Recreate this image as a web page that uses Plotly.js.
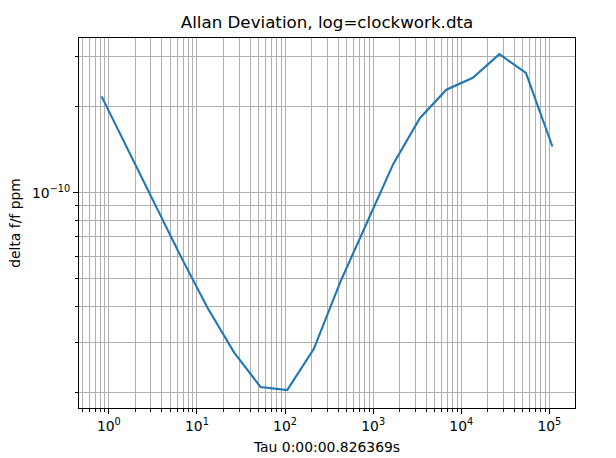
<!DOCTYPE html>
<html>
<head>
<meta charset="utf-8">
<script src="https://cdn.plot.ly/plotly-3.0.1.min.js"></script>
<style>html,body{margin:0;padding:0;background:#fff;}#chart{width:616px;height:458px;}</style>
</head>
<body>
<div id="chart"></div>
<script>
// Tau values (s): base tau 0.826369 s, doubled each step
const tau = [0.826369, 1.652738, 3.305476, 6.610952, 13.221904, 26.443808, 52.887616, 105.775232,
             211.550464, 423.100928, 846.201856, 1692.403712, 3384.807424, 6769.614848,
             13539.229696, 27078.459392, 54156.918784, 108313.837568];
// Allan deviation values
const adev = [2.17e-10, 1.41e-10, 9.13e-11, 5.95e-11, 3.95e-11, 2.76e-11, 2.09e-11, 2.04e-11,
              2.84e-11, 4.87e-11, 7.83e-11, 1.26e-10, 1.82e-10, 2.29e-10, 2.52e-10, 3.05e-10,
              2.62e-10, 1.45e-10];
// Major (labelled) ticks
const xMajorVals = [1, 10, 100, 1000, 10000, 100000];
const xMajorText = ['10<sup>0</sup>', '10<sup>1</sup>', '10<sup>2</sup>', '10<sup>3</sup>', '10<sup>4</sup>', '10<sup>5</sup>'];
const yMajorVals = [1e-10];
const yMajorText = ['10<sup>\u221210</sup>'];
// Decades spanned by the axes (for minor grid lines 1..9 x decade)
const xDecades = [-1, 0, 1, 2, 3, 4, 5];
const yDecades = [-11, -10];

function gridVals(decades, lo, hi) {
  const out = [];
  decades.forEach(d => { for (let m = 1; m <= 9; m++) { const v = m * Math.pow(10, d); if (v >= lo && v <= hi) out.push(v); } });
  return out;
}

const FONT = 'DejaVu Sans, sans-serif';
const GRID = '#b0b0b0';
const xRange = [-0.339, 5.291];
const yRange = [-10.7528, -9.4594];

const trace = {
  x: tau, y: adev, type: 'scatter', mode: 'lines',
  line: {color: '#1f77b4', width: 2.1},
  hoverinfo: 'skip', xaxis: 'x', yaxis: 'y'
};
// invisible helper so that the overlay axes (long major ticks + labels) are drawn
const helper = {
  x: [tau[0]], y: [adev[0]], type: 'scatter', mode: 'markers',
  marker: {opacity: 0}, hoverinfo: 'skip', xaxis: 'x2', yaxis: 'y2'
};

const gridAxis = {
  type: 'log', tickmode: 'array',
  showline: true, linecolor: '#000', linewidth: 1, mirror: true,
  showgrid: true, gridcolor: GRID, gridwidth: 1,
  ticks: 'outside', ticklen: 3, tickwidth: 1, tickcolor: '#000',
  showticklabels: false, zeroline: false
};
const majorAxis = {
  type: 'log', tickmode: 'array',
  showline: false, showgrid: false, zeroline: false,
  ticks: 'outside', ticklen: 5, tickwidth: 1, tickcolor: '#000',
  tickfont: {family: FONT, size: 13.9, color: '#000'}
};

const layout = {
  width: 616, height: 458,
  margin: {l: 79, r: 41, t: 38, b: 50, pad: 0},
  paper_bgcolor: '#fff', plot_bgcolor: '#fff',
  showlegend: false,
  font: {family: FONT, color: '#000'},
  title: {text: 'Allan Deviation, log=clockwork.dta', font: {family: FONT, size: 16.7, color: '#000'},
          x: 0.5, xref: 'paper', xanchor: 'center', y: 1 - 22 / 458, yref: 'container', yanchor: 'middle'},
  xaxis: Object.assign({}, gridAxis, {
    range: xRange, tickvals: gridVals(xDecades, 0.45, 2e5)
  }),
  yaxis: Object.assign({}, gridAxis, {
    range: yRange, tickvals: gridVals(yDecades, 1.7e-11, 3.5e-10)
  }),
  xaxis2: Object.assign({}, majorAxis, {
    range: xRange, overlaying: 'x', anchor: 'y2', side: 'bottom',
    tickvals: xMajorVals, ticktext: xMajorText,
    title: {text: 'Tau 0:00:00.826369s', font: {family: FONT, size: 13.9, color: '#000'}, standoff: 9}
  }),
  yaxis2: Object.assign({}, majorAxis, {
    range: yRange, overlaying: 'y', anchor: 'x2', side: 'left',
    tickvals: yMajorVals, ticktext: yMajorText,
    title: {text: 'delta f/f ppm', font: {family: FONT, size: 13.9, color: '#000'}, standoff: 8}
  })
};

Plotly.newPlot('chart', [trace, helper], layout, {staticPlot: true, displayModeBar: false});
</script>
</body>
</html>
